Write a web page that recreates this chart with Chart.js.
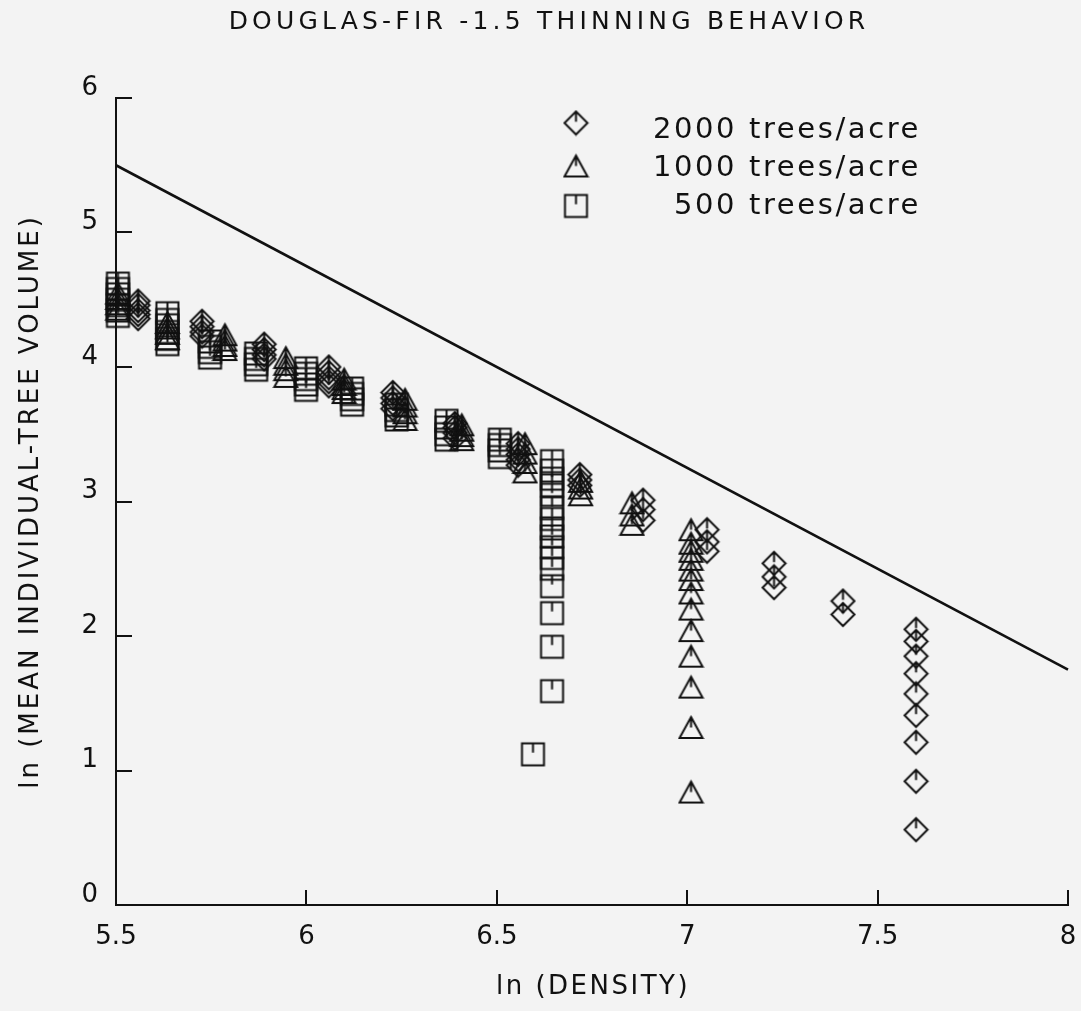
<!DOCTYPE html>
<html>
<head>
<meta charset="utf-8">
<script src="https://cdn.jsdelivr.net/npm/chart.js@4.4.1/dist/chart.umd.min.js"></script>
<style>
  html, body { margin: 0; padding: 0; background: #f3f3f3; }
  #wrap { width: 1081px; height: 1011px; }
</style>
</head>
<body>
<div id="wrap"><canvas id="c" width="1081" height="1011"></canvas></div>
<script>
// ---- text ----
const titleText = 'DOUGLAS-FIR -1.5 THINNING BEHAVIOR';
const xTitleText = 'ln (DENSITY)';
const yTitleText = 'ln (MEAN INDIVIDUAL-TREE VOLUME)';
const seriesLabels = ['2000 trees/acre', '1000 trees/acre', '500 trees/acre'];

// ---- axis ticks ----
const xTickValues = [5.5, 6, 6.5, 7, 7.5, 8];
const yTickValues = [0, 1, 2, 3, 4, 5, 6];

// ---- -1.5 self-thinning line ----
const lineX = [5.5, 8];
const lineY = [5.5, 1.75];

// ---- 2000 trees/acre (diamonds) ----
const x2000 = [5.558,5.558,5.558,5.558,5.558,
  5.726,5.726,5.726,5.726,
  5.889,5.889,5.889,5.889,
  6.059,6.059,6.059,6.059,6.059,
  6.227,6.227,6.227,6.227,
  6.390,6.390,6.390,6.390,
  6.556,6.556,6.556,6.556,6.556,
  6.718,6.718,6.718,
  6.884,6.884,6.884,
  7.052,7.052,7.052,
  7.228,7.228,7.228,
  7.409,7.409,
  7.601,7.601,7.601,7.601,7.601,7.601,7.601,7.601,7.601];
const y2000 = [4.49,4.46,4.42,4.39,4.36,
  4.34,4.30,4.26,4.23,
  4.17,4.13,4.09,4.06,
  4.00,3.96,3.92,3.89,3.86,
  3.81,3.77,3.73,3.69,
  3.58,3.55,3.51,3.47,
  3.43,3.39,3.35,3.31,3.27,
  3.20,3.16,3.12,
  3.01,2.94,2.86,
  2.79,2.70,2.63,
  2.54,2.44,2.36,
  2.26,2.16,
  2.05,1.96,1.85,1.72,1.57,1.41,1.21,0.92,0.56];

// ---- 1000 trees/acre (triangles) ----
const x1000 = [5.505,5.505,5.505,5.505,
  5.635,5.635,5.635,5.635,
  5.786,5.786,5.786,5.786,
  5.946,5.946,5.946,5.946,
  6.099,6.099,6.099,6.099,
  6.259,6.259,6.259,6.259,
  6.408,6.408,6.408,6.408,
  6.574,6.574,6.574,6.574,
  6.720,6.720,6.720,
  6.855,6.855,6.855,
  7.010,7.010,7.010,7.010,7.010,7.010,7.010,7.010,7.010,7.010,7.010,7.010,7.010];
const y1000 = [4.55,4.51,4.47,4.43,
  4.33,4.29,4.25,4.21,
  4.24,4.20,4.16,4.13,
  4.07,4.02,3.98,3.93,
  3.91,3.87,3.84,3.81,
  3.76,3.71,3.66,3.61,
  3.57,3.53,3.49,3.46,
  3.43,3.36,3.29,3.22,
  3.15,3.10,3.05,
  2.99,2.90,2.83,
  2.79,2.69,2.63,2.57,2.49,2.42,2.32,2.20,2.04,1.85,1.62,1.32,0.84];

// ---- 500 trees/acre (squares) ----
const x500 = [5.505,5.505,5.505,5.505,5.505,5.505,5.505,
  5.635,5.635,5.635,5.635,5.635,5.635,
  5.747,5.747,5.747,5.747,
  5.868,5.868,5.868,5.868,
  5.999,5.999,5.999,5.999,5.999,
  6.120,6.120,6.120,6.120,
  6.237,6.237,6.237,6.237,
  6.368,6.368,6.368,6.368,
  6.508,6.508,6.508,6.508,
  6.645,6.645,6.645,6.645,6.645,6.645,6.645,6.645,6.645,6.645,6.645,6.645,6.645,6.645,6.645,6.645,
  6.595];
const y500 = [4.62,4.58,4.54,4.50,4.46,4.42,4.38,
  4.40,4.35,4.31,4.26,4.21,4.17,
  4.19,4.15,4.11,4.07,
  4.10,4.06,4.02,3.98,
  3.99,3.95,3.91,3.87,3.83,
  3.84,3.80,3.76,3.72,
  3.72,3.68,3.64,3.61,
  3.60,3.55,3.50,3.46,
  3.46,3.42,3.38,3.33,
  3.30,3.23,3.17,3.12,3.05,2.95,2.87,2.80,2.74,2.66,2.58,2.50,2.37,2.17,1.92,1.59,
  1.12];

// ---- marker images (hollow shapes with a short inner tick) ----
const INK = '#111111';
function makeMarker(kind) {
  const S = 23, P = 2;
  const cv = document.createElement('canvas');
  cv.width = S + 2 * P; cv.height = S + 2 * P;
  const g = cv.getContext('2d');
  g.strokeStyle = INK; g.lineWidth = 2; g.lineJoin = 'miter';
  const L = P, T = P, R = P + S, B = P + S, cx = P + S / 2, cy = P + S / 2;
  g.beginPath();
  if (kind === 'diamond') {
    g.moveTo(cx, T); g.lineTo(R, cy); g.lineTo(cx, B); g.lineTo(L, cy); g.closePath();
    g.moveTo(cx, T); g.lineTo(cx, T + S * 0.45);
  } else if (kind === 'triangle') {
    g.moveTo(cx, T + 1); g.lineTo(R, B - 1); g.lineTo(L, B - 1); g.closePath();
    g.moveTo(cx, T + 1); g.lineTo(cx, T + S * 0.5);
  } else {
    g.rect(L + 0.5, T + 0.5, S - 1, S - 1);
    g.moveTo(cx, T + 0.5); g.lineTo(cx, T + S * 0.42);
  }
  g.stroke();
  return cv;
}
const markerImgs = [makeMarker('diamond'), makeMarker('triangle'), makeMarker('square')];

function pts(xs, ys) { return xs.map((x, i) => ({ x: x, y: ys[i] })); }

const bgPlugin = {
  id: 'bg',
  beforeDraw(chart) {
    const ctx = chart.ctx;
    ctx.save();
    ctx.fillStyle = '#f3f3f3';
    ctx.fillRect(0, 0, chart.width, chart.height);
    ctx.restore();
  }
};

const decoPlugin = {
  id: 'deco',
  afterDraw(chart) {
    const ctx = chart.ctx;
    const a = chart.chartArea;
    const xs = chart.scales.x, ys = chart.scales.y;
    ctx.save();
    ctx.strokeStyle = INK;
    ctx.lineWidth = 2;
    // inward ticks
    ctx.beginPath();
    yTickValues.forEach(v => {
      if (v === ys.min) return;
      const py = Math.round(ys.getPixelForValue(v));
      ctx.moveTo(a.left, py); ctx.lineTo(a.left + 16, py);
    });
    xTickValues.forEach(v => {
      if (v === xs.min) return;
      const px = Math.round(xs.getPixelForValue(v));
      ctx.moveTo(px, a.bottom); ctx.lineTo(px, a.bottom - 15);
    });
    ctx.stroke();

    ctx.fillStyle = INK;
    ctx.textBaseline = 'middle';
    // title
    ctx.font = '25px "DejaVu Sans"';
    ctx.letterSpacing = '4.2px';
    ctx.textAlign = 'center';
    ctx.fillText(titleText, 549, 22);
    // x title
    ctx.font = '26px "DejaVu Sans"';
    ctx.letterSpacing = '2.5px';
    ctx.fillText(xTitleText, (a.left + a.right) / 2 + 1, 987);
    // y title
    ctx.save();
    ctx.translate(31, (a.top + a.bottom) / 2);
    ctx.rotate(-Math.PI / 2);
    ctx.letterSpacing = '3px';
    ctx.fillText(yTitleText, 0, 0);
    ctx.restore();
    // legend
    const markerY = [123, 166, 206];
    const textY = [130, 168, 206];
    ctx.font = '29px "DejaVu Sans"';
    ctx.letterSpacing = '2.6px';
    ctx.textAlign = 'right';
    seriesLabels.forEach((lab, i) => {
      const img = markerImgs[i];
      ctx.drawImage(img, 576 - img.width / 2, markerY[i] - img.height / 2);
      ctx.fillText(lab, 921, textY[i]);
    });
    ctx.restore();
  }
};

const chart = new Chart(document.getElementById('c'), {
  type: 'scatter',
  data: {
    datasets: [
      {
        label: 'slope -1.5',
        type: 'line',
        data: pts(lineX, lineY),
        showLine: true,
        borderColor: INK,
        borderWidth: 2.6,
        pointRadius: 0,
        fill: false,
        clip: false
      },
      {
        label: seriesLabels[0],
        data: pts(x2000, y2000),
        pointStyle: markerImgs[0],
        clip: false
      },
      {
        label: seriesLabels[1],
        data: pts(x1000, y1000),
        pointStyle: markerImgs[1],
        clip: false
      },
      {
        label: seriesLabels[2],
        data: pts(x500, y500),
        pointStyle: markerImgs[2],
        clip: false
      }
    ]
  },
  options: {
    responsive: false,
    animation: false,
    events: [],
    devicePixelRatio: 1,
    layout: { padding: { top: 98, right: 13, bottom: 0, left: 0 } },
    plugins: {
      legend: { display: false },
      title: { display: false },
      tooltip: { enabled: false }
    },
    scales: {
      x: {
        type: 'linear',
        min: 5.5, max: 8,
        afterFit(s) { s.height = 106; s.paddingLeft = 0; s.paddingRight = 0; },
        afterBuildTicks(s) { s.ticks = xTickValues.map(v => ({ value: v })); },
        ticks: {
          color: INK,
          font: { family: 'DejaVu Sans', size: 26 },
          padding: 17,
          maxRotation: 0,
          autoSkip: false,
          callback: v => String(v)
        },
        grid: { drawOnChartArea: false, drawTicks: false },
        border: { display: true, color: INK, width: 2 }
      },
      y: {
        type: 'linear',
        min: 0, max: 6,
        afterFit(s) { s.width = 116; s.paddingTop = 0; s.paddingBottom = 0; },
        afterBuildTicks(s) { s.ticks = yTickValues.map(v => ({ value: v })); },
        ticks: {
          color: INK,
          font: { family: 'DejaVu Sans', size: 26 },
          padding: 18,
          labelOffset: -10,
          autoSkip: false,
          callback: v => String(v)
        },
        grid: { drawOnChartArea: false, drawTicks: false },
        border: { display: true, color: INK, width: 2 }
      }
    }
  },
  plugins: [bgPlugin, decoPlugin]
});
</script>
</body>
</html>
